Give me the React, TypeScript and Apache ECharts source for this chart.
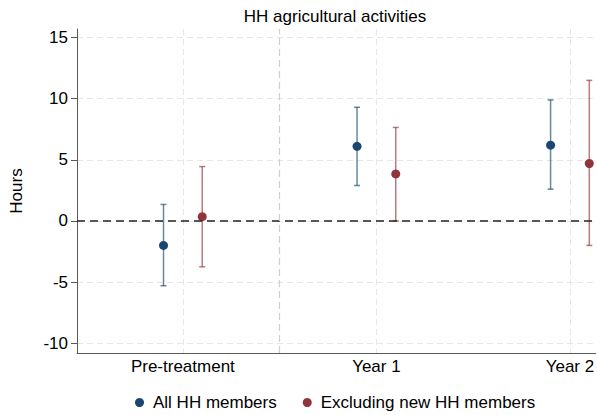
import React, { useEffect, useRef } from "react";
import * as echarts from "echarts";

const categories = ["Pre-treatment", "Year 1", "Year 2"];
const catPositions = [1, 2, 3];
const allEst = [-2.0, 6.1, 6.2];
const allLo = [-5.3, 2.9, 2.6];
const allHi = [1.35, 9.3, 9.9];
const exclEst = [0.35, 3.85, 4.7];
const exclLo = [-3.75, 0.0, -2.0];
const exclHi = [4.45, 7.65, 11.5];
const yTicks = [-10, -5, 0, 5, 10, 15];
const seriesNames = ["All HH members", "Excluding new HH members"];
const separatorAt = 1.5;
const groupOffset = 0.1;

const BLUE = "#1a476f";
const RED = "#90353b";
const FONT = "Liberation Sans, Arial, sans-serif";

function ciSeries(est: number[], lo: number[], hi: number[], shift: number, color: string) {
  return {
    type: "custom",
    silent: true,
    clip: false,
    z: 3,
    data: est.map((_, i) => [catPositions[i] + shift, lo[i], hi[i]]),
    renderItem: (params: any, api: any) => {
      const top = api.coord([api.value(0), api.value(2)]);
      const bot = api.coord([api.value(0), api.value(1)]);
      const x = top[0];
      const style = { stroke: color, lineWidth: 1.5, opacity: 0.65 };
      return {
        type: "group",
        children: [
          { type: "line", shape: { x1: x, y1: top[1], x2: x, y2: bot[1] }, style },
          { type: "line", shape: { x1: x - 3, y1: top[1], x2: x + 3, y2: top[1] }, style },
          { type: "line", shape: { x1: x - 3, y1: bot[1], x2: x + 3, y2: bot[1] }, style },
        ],
      };
    },
  };
}

export default function App() {
  const ref = useRef<HTMLDivElement>(null);
  useEffect(() => {
    if (!ref.current) return;
    const chart = echarts.init(ref.current, null, { renderer: "svg" });
    chart.setOption({
      animation: false,
      backgroundColor: "#ffffff",
      textStyle: { fontFamily: FONT },
      graphic: [
        {
          type: "text",
          x: 335,
          y: 16,
          style: {
            text: "HH agricultural activities",
            textAlign: "center",
            textVerticalAlign: "middle",
            fontSize: 17,
            fontFamily: FONT,
            fill: "#000",
          },
        },
      ],
      legend: {
        data: seriesNames.map((n) => ({ name: n, icon: "circle" })),
        left: 130,
        top: 389,
        itemWidth: 9,
        itemHeight: 9,
        itemGap: 26,
        textStyle: { fontSize: 17, color: "#000", fontFamily: FONT, padding: [0, 0, 0, 4] },
      },
      grid: { left: 73, right: 0, top: 29, bottom: 62, containLabel: false },
      xAxis: {
        type: "value",
        min: 0.453,
        max: 3.133,
        axisLine: { show: true, onZero: false, lineStyle: { color: "#5a5a5a", width: 1 } },
        axisTick: { show: false, customValues: catPositions },
        axisLabel: {
          customValues: catPositions,
          margin: 5,
          fontSize: 17,
          color: "#000",
          fontFamily: FONT,
          formatter: (v: number) => {
            const i = catPositions.indexOf(Math.round(v));
            return i >= 0 ? categories[i] : "";
          },
        },
        splitLine: { show: true, lineStyle: { color: "#e6e6e6", type: [6, 4], width: 1 } },
      },
      yAxis: {
        type: "value",
        min: -10.8,
        max: 15.7,
        name: "Hours",
        nameLocation: "middle",
        nameRotate: 90,
        nameGap: 52,
        nameTextStyle: { fontSize: 17, color: "#000", fontFamily: FONT },
        axisLine: { show: true, lineStyle: { color: "#5a5a5a", width: 1 } },
        axisTick: { show: true, length: 6, customValues: yTicks, lineStyle: { color: "#5a5a5a" } },
        axisLabel: {
          customValues: yTicks,
          margin: 9,
          fontSize: 17,
          color: "#000",
          fontFamily: FONT,
        },
        splitLine: { show: true, lineStyle: { color: "#e6e6e6", type: [6, 4], width: 1 } },
      },
      series: [
        ciSeries(allEst, allLo, allHi, -groupOffset, BLUE),
        ciSeries(exclEst, exclLo, exclHi, groupOffset, RED),
        {
          name: seriesNames[0],
          type: "scatter",
          symbol: "circle",
          symbolSize: 9,
          z: 4,
          clip: false,
          itemStyle: { color: BLUE, opacity: 1 },
          data: allEst.map((v, i) => [catPositions[i] - groupOffset, v]),
          markLine: {
            silent: true,
            symbol: "none",
            label: { show: false },
            lineStyle: { color: "#222222", type: [8, 5], width: 1.5 },
            data: [{ yAxis: 0 }],
          },
        },
        {
          name: seriesNames[1],
          type: "scatter",
          symbol: "circle",
          symbolSize: 9,
          z: 4,
          clip: false,
          itemStyle: { color: RED, opacity: 1 },
          data: exclEst.map((v, i) => [catPositions[i] + groupOffset, v]),
          markLine: {
            silent: true,
            symbol: "none",
            label: { show: false },
            lineStyle: { color: "#cfcfcf", type: [7, 4], width: 1.2 },
            data: [{ xAxis: separatorAt }],
          },
        },
      ],
    });
    return () => chart.dispose();
  }, []);
  return (
    <div
      ref={ref}
      style={{ position: "absolute", left: 0, top: 0, width: 597, height: 415 }}
    />
  );
}
